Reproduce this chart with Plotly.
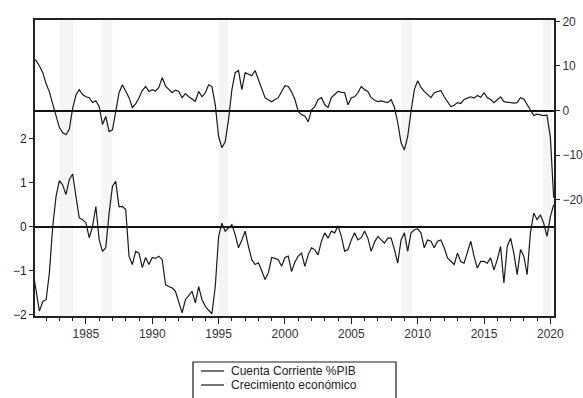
import pandas as pd
import plotly.graph_objects as go

# Quarterly observations, 1981Q1 - 2020Q2
start_quarter = "1981-01-01"

# Current account balance (% of GDP), left axis
cuenta_corriente = [
    -1.00, -1.50, -1.92, -1.70,   # 1981
    -1.66, -1.05, 0.00, 0.69,     # 1982
    1.05, 0.95, 0.73, 1.07,       # 1983
    1.20, 0.69, 0.20, 0.16,       # 1984
    0.09, -0.25, 0.00, 0.46,      # 1985
    -0.30, -0.56, -0.48, 0.31,    # 1986
    0.92, 1.03, 0.45, 0.46,       # 1987
    0.39, -0.67, -0.86, -0.56,    # 1988
    -0.60, -0.93, -0.70, -0.86,   # 1989
    -0.70, -0.72, -0.67, -0.75,   # 1990
    -1.32, -1.36, -1.39, -1.47,   # 1991
    -1.73, -1.96, -1.66, -1.55,   # 1992
    -1.47, -1.73, -1.36, -1.66,   # 1993
    -1.81, -1.90, -1.98, -1.36,   # 1994
    -0.22, 0.08, -0.10, -0.03,    # 1995
    0.05, -0.18, -0.48, -0.30,    # 1996
    -0.10, -0.45, -0.75, -0.86,   # 1997
    -0.82, -1.00, -1.20, -1.05,   # 1998
    -0.70, -0.72, -0.75, -0.90,   # 1999
    -0.70, -0.67, -1.02, -0.80,   # 2000
    -0.67, -0.60, -0.90, -0.64,   # 2001
    -0.48, -0.52, -0.64, -0.33,   # 2002
    -0.14, -0.26, -0.10, -0.14,   # 2003
    0.02, -0.22, -0.56, -0.52,    # 2004
    -0.30, -0.14, -0.30, -0.25,   # 2005
    -0.10, -0.26, -0.56, -0.35,   # 2006
    -0.22, -0.30, -0.37, -0.26,   # 2007
    -0.26, -0.52, -0.83, -0.30,   # 2008
    -0.14, -0.56, -0.14, -0.07,   # 2009
    -0.05, -0.14, -0.48, -0.30,   # 2010
    -0.33, -0.48, -0.33, -0.30,   # 2011
    -0.48, -0.71, -0.79, -0.86,   # 2012
    -0.60, -0.79, -0.83, -0.60,   # 2013
    -0.33, -0.67, -0.94, -0.79,   # 2014
    -0.79, -0.83, -0.71, -0.98,   # 2015
    -0.75, -0.45, -1.28, -0.45,   # 2016
    -0.26, -0.60, -1.09, -0.52,   # 2017
    -0.67, -1.09, -0.14, 0.31,    # 2018
    0.16, 0.27, 0.08, -0.22,      # 2019
    0.23, 0.50,                   # 2020
]

# Economic growth (annual % change), right axis
crecimiento = [
    11.8, 11.2, 10.0, 8.5,        # 1981
    6.0, 4.2, 1.5, -1.0,          # 1982
    -3.8, -4.9, -5.4, -4.2,       # 1983
    0.5, 3.5, 4.7, 3.6,           # 1984
    3.1, 2.9, 1.8, 2.2,           # 1985
    0.9, -3.1, -1.3, -4.7,        # 1986
    -4.3, -0.2, 4.0, 5.8,         # 1987
    4.2, 2.9, 0.7, 1.5,           # 1988
    2.9, 4.5, 5.4, 4.3,           # 1989
    4.7, 4.4, 5.2, 7.4,           # 1990
    5.5, 4.7, 4.0, 4.6,           # 1991
    4.3, 2.9, 3.8, 3.1,           # 1992
    2.5, 2.1, 4.3, 3.1,           # 1993
    4.0, 5.8, 5.4, 1.3,           # 1994
    -5.8, -8.3, -7.0, -2.0,       # 1995
    4.7, 8.5, 9.0, 4.7,           # 1996
    8.5, 8.1, 7.8, 9.0,           # 1997
    7.0, 5.2, 2.9, 2.4,           # 1998
    2.0, 2.5, 2.9, 4.3,           # 1999
    5.6, 5.4, 4.2, 2.5,           # 2000
    -0.2, -0.9, -1.2, -2.5,       # 2001
    0.2, 0.9, 2.5, 2.9,           # 2002
    1.3, 0.7, 2.9, 3.6,           # 2003
    4.3, 4.1, 4.0, 1.3,           # 2004
    2.9, 3.1, 4.0, 5.4,           # 2005
    4.7, 4.3, 2.9, 2.4,           # 2006
    2.0, 2.2, 2.0, 1.8,           # 2007
    2.5, 0.7, -2.7, -7.2,         # 2008
    -8.8, -5.8, -0.2, 4.7,        # 2009
    6.7, 5.2, 4.3, 3.5,           # 2010
    2.9, 4.0, 4.3, 4.5,           # 2011
    3.1, 2.0, 0.9, 1.2,           # 2012
    1.8, 1.6, 2.5, 2.8,           # 2013
    3.1, 2.8, 3.4, 3.0,           # 2014
    4.0, 2.9, 2.5, 1.8,           # 2015
    2.4, 3.1, 2.0, 1.9,           # 2016
    1.8, 1.7, 1.8, 2.9,           # 2017
    2.6, 1.3, 0.2, -1.1,          # 2018
    -0.8, -0.9, -1.1, -1.0,       # 2019
    -6.0, -19.5,                  # 2020
]

series_names = ["Cuenta Corriente %PIB", "Crecimiento económico"]
left_ticks = [-2, -1, 0, 1, 2]
right_ticks = [-20, -10, 0, 10, 20]
year_ticks = list(range(1985, 2021, 5))

# Shaded episodes (start, end)
bandas = [
    ("1983-01-01", "1984-01-15"),
    ("1986-03-01", "1987-01-01"),
    ("1995-01-01", "1995-10-01"),
    ("2008-10-01", "2009-08-01"),
    ("2019-06-01", "2020-02-01"),
]

fechas = pd.date_range(start_quarter, periods=len(cuenta_corriente), freq="QS")

W, H = 583, 398
ML, MR, MT, MB = 35, 29, 20, 82
PW, PH = W - ML - MR, H - MT - MB


def px_to_paper(px, py):
    """Convert canvas pixels to paper fractions of the plotting area."""
    return (px - ML) / PW, (H - MB - py) / PH


font_family = "Liberation Sans, Arial, sans-serif"
ink = "#1a1a1a"

fig = go.Figure()
fig.add_trace(go.Scatter(
    x=fechas, y=cuenta_corriente, mode="lines", name=series_names[0],
    line=dict(color=ink, width=1.2), yaxis="y",
))
fig.add_trace(go.Scatter(
    x=fechas, y=crecimiento, mode="lines", name=series_names[1],
    line=dict(color=ink, width=1.2), yaxis="y2",
))

for a, b in bandas:
    fig.add_shape(type="rect", xref="x", yref="paper", x0=a, x1=b, y0=0, y1=1,
                  fillcolor="#f5f5f5", line=dict(width=0), layer="below")

# Legend box below the axis
bx0, by0 = px_to_paper(193, 362)
bx1, by1 = px_to_paper(396, 400)
fig.add_shape(type="rect", xref="paper", yref="paper", x0=bx0, x1=bx1, y0=by1, y1=by0,
              line=dict(color=ink, width=1.2), fillcolor="white")
for i, name in enumerate(series_names):
    row_y = 371 + i * 14
    lx0, ly = px_to_paper(201, row_y)
    lx1, _ = px_to_paper(224, row_y)
    tx, _ = px_to_paper(230, row_y)
    fig.add_shape(type="line", xref="paper", yref="paper", x0=lx0, x1=lx1, y0=ly, y1=ly,
                  line=dict(color=ink, width=1.2))
    fig.add_annotation(xref="paper", yref="paper", x=tx, y=ly, text=name,
                       showarrow=False, xanchor="left", yanchor="middle",
                       borderpad=0, font=dict(size=12, color="#222"))

fig.update_layout(
    width=W, height=H,
    margin=dict(l=ML, r=MR, t=MT, b=MB, autoexpand=False),
    paper_bgcolor="white", plot_bgcolor="white",
    font=dict(family=font_family, size=12, color="#222"),
    showlegend=False,
    xaxis=dict(
        type="date",
        range=["1981-03-01", "2020-04-10"],
        tickvals=[f"{y}-01-01" for y in year_ticks],
        ticktext=[str(y) for y in year_ticks],
        ticks="outside", ticklen=6, tickwidth=1, tickcolor="#222",
        minor=dict(dtick="M12", tick0="1981-01-01", ticks="outside", ticklen=3,
                   tickcolor="#222", showgrid=False),
        showline=True, linecolor="#222", linewidth=2, mirror=True,
        showgrid=False, zeroline=False,
        tickfont=dict(size=12, color="#333"),
    ),
    yaxis=dict(
        range=[-2.03, 4.7],
        tickvals=left_ticks,
        ticks="outside", ticklen=4, tickcolor="#222",
        showline=True, linecolor="#222", linewidth=2,
        showgrid=False,
        zeroline=True, zerolinecolor="#111", zerolinewidth=2,
        tickfont=dict(size=12, color="#222"),
    ),
    yaxis2=dict(
        overlaying="y", side="right",
        range=[-46, 20.3],
        tickvals=right_ticks,
        ticks="outside", ticklen=4, tickcolor="#222",
        showline=True, linecolor="#222", linewidth=2,
        showgrid=False,
        zeroline=True, zerolinecolor="#111", zerolinewidth=2,
        tickfont=dict(size=12, color="#333"),
    ),
)

fig.write_html("out.html")
